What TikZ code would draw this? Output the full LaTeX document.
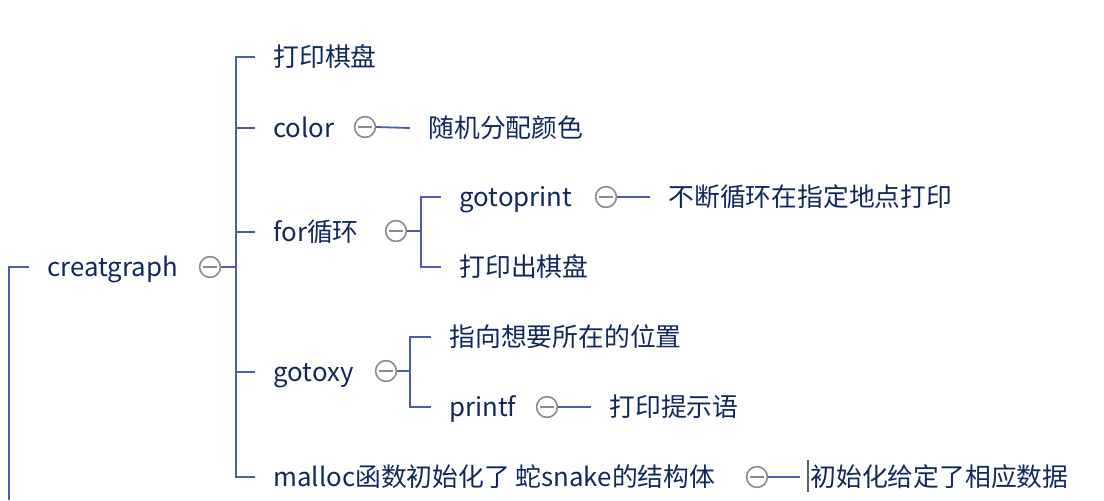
\documentclass[tikz,border=0pt]{standalone}
\usepackage{fontspec}
\setmainfont{Noto Sans CJK SC}
\usepackage{tikz}
\usetikzlibrary{positioning,calc}
\definecolor{inkblue}{HTML}{102860}
\definecolor{linkblue}{HTML}{4A5DAA}
\definecolor{foldgray}{HTML}{8A8A8A}

\tikzset{
  topic/.style={anchor=west,text=inkblue,inner xsep=9pt,inner ysep=0pt,
    text height=0.98em,text depth=0.02em,font=\fontsize{12.9}{15}\selectfont},
  fold/.style={circle,draw=foldgray,fill=white,line width=0.8pt,minimum size=10.4pt,inner sep=0pt,
    path picture={\draw[foldgray,line width=0.8pt]
      ([xshift=1.6pt]path picture bounding box.west) -- ([xshift=-1.6pt]path picture bounding box.east);}},
  link/.style={draw=linkblue,line width=0.9pt}
}

\begin{document}
\begin{tikzpicture}[x=0.5pt,y=-0.5pt]
\useasboundingbox (0,0) rectangle (1104,500);
% root
\node[topic] (root) at (29,267) {creatgraph};
\node[fold] (k0) at (210,267) {};
\coordinate (bus0) at (236,267);
\coordinate (trunkend) at (9,500);
\draw[link] (root.west) -| (trunkend);
% first level
\node[topic] (a1) at (255,57) {打印棋盘};
\node[topic] (a2) at (255,128) {color};
\node[topic] (a3) at (255,232) {for循环};
\node[topic] (a4) at (255,372) {gotoxy};
\node[topic] (a5) at (255,477) {malloc函数初始化了 蛇snake的结构体};
\foreach \n in {a1,a2,a3,a4,a5}{
  \draw[link] (k0.east) -- (bus0) |- (\n.west);
}
% color
\node[fold] (k2) at (365,127) {};
\node[topic] (b2) at (410,128) {随机分配颜色};
\draw[link] (k2.east) -- (b2.west);
% for loop
\node[fold] (k3) at (396,231) {};
\coordinate (bus3) at (421,231);
\node[topic] (b31) at (441,197) {gotoprint};
\node[topic] (b32) at (441,267) {打印出棋盘};
\foreach \n in {b31,b32}{
  \draw[link] (k3.east) -- (bus3) |- (\n.west);
}
\node[fold] (k31) at (606,197) {};
\node[topic] (c31) at (650,197) {不断循环在指定地点打印};
\draw[link] (k31.east) -- (c31.west);
% gotoxy
\node[fold] (k4) at (386,371) {};
\coordinate (bus4) at (410,371);
\node[topic] (b41) at (431,337) {指向想要所在的位置};
\node[topic] (b42) at (431,407) {printf};
\foreach \n in {b41,b42}{
  \draw[link] (k4.east) -- (bus4) |- (\n.west);
}
\node[fold] (k42) at (547,407) {};
\node[topic] (c42) at (591,407) {打印提示语};
\draw[link] (k42.east) -- (c42.west);
% malloc
\node[fold] (k5) at (757,477) {};
\node[topic,inner xsep=5pt] (b5) at (800,477) {初始化给定了相应数据};
\draw[link] (k5.east) -- (b5.west);
\draw[foldgray!70!black,line width=0.9pt] (808,460) -- (808,492);
\end{tikzpicture}
\end{document}
